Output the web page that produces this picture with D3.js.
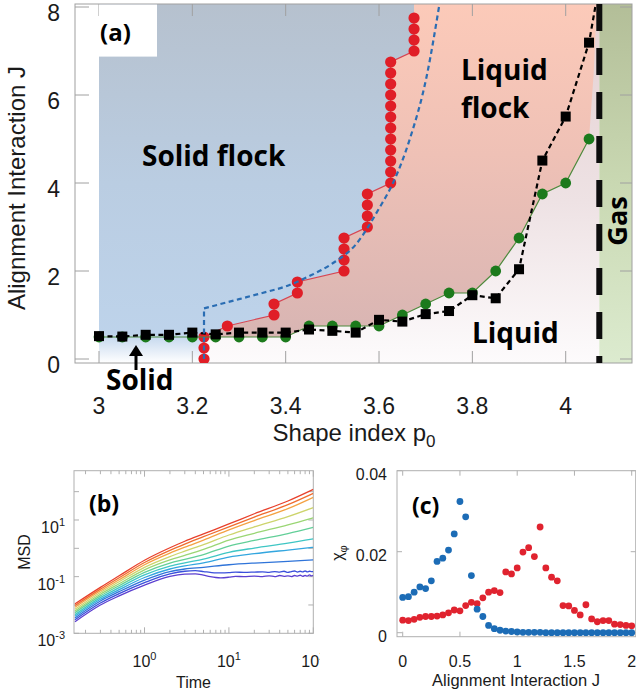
<!DOCTYPE html>
<html><head><meta charset="utf-8">
<script src="https://cdn.jsdelivr.net/npm/d3@7"></script>
<style>
html,body{margin:0;padding:0;background:#fff;}
svg{display:block;}
text{font-family:"Liberation Sans",Arial,sans-serif;fill:#1a1a1a;}
text.bold{font-family:"Open Sans",sans-serif;font-weight:700;fill:#000;}
</style></head><body>
<svg id="fig" width="636" height="696"></svg>
<script>
// ================= Panel (a) data =================
const xTicksA = [3, 3.2, 3.4, 3.6, 3.8, 4];
const yTicksA = [0, 2, 4, 6, 8];
// red: solid-flock boundary (p0, J)
const redP0 = [3.225,3.225,3.225,3.275,3.375,3.375,3.425,3.425,3.525,3.525,3.525,3.525,
  3.575,3.575,3.575,3.575,3.625,3.625,3.625,3.625,3.625,3.625,3.625,3.625,3.625,3.625,3.625,3.625,
  3.675,3.675,3.675,3.675];
const redJ = [0,0.25,0.5,0.75,1.0,1.25,1.5,1.75,2.0,2.25,2.5,2.75,3.0,3.25,3.5,3.75,
  4.0,4.25,4.5,4.75,5.0,5.25,5.5,5.75,6.0,6.25,6.5,6.75,7.0,7.25,7.5,7.75];
// black squares (dashed)
const blackP0 = [3.0,3.05,3.1,3.15,3.2,3.25,3.3,3.35,3.4,3.45,3.5,3.55,3.6,3.65,3.7,3.75,3.8,3.85,3.9,3.95,4.0,4.05];
const blackJ  = [0.52,0.51,0.55,0.55,0.6,0.56,0.6,0.6,0.6,0.67,0.64,0.6,0.89,0.85,1.02,1.09,1.45,1.38,2.04,4.51,5.51,7.19];
const blackTopP0 = [4.07], blackTopJ = [8.4]; // line continues past the frame
// green circles
const greenP0 = [3.0,3.05,3.1,3.15,3.2,3.25,3.3,3.35,3.4,3.45,3.5,3.55,3.6,3.65,3.7,3.75,3.8,3.85,3.9,3.95,4.0,4.05];
const greenJ  = [0.5,0.5,0.5,0.5,0.5,0.5,0.5,0.5,0.5,0.75,0.75,0.75,0.75,1.0,1.25,1.5,1.5,2.0,2.75,3.75,4.0,5.0];
// blue dashed theory curve
const theoryP0 = [3.225,3.225,3.3,3.35,3.4,3.45,3.5,3.55,3.6,3.63,3.666,3.702,3.73];
const theoryJ  = [0,1.15,1.36,1.5,1.65,1.88,2.17,2.6,3.42,4.0,5.0,6.42,8.1];
// gas boundary and upper edge of liquid-flock shading
const gasP0 = 4.072;
const flockEdgeP0 = [4.068, 4.06], flockEdgeJ = [8.4, 6.5];

// ================= Panel (b) data =================
const msdTime = [0.15,0.3,0.5,1,2,3,5,10,20,50,100];
const msdLog10 = [
  [-1.96,-1.38,-0.97,-0.42, 0.02, 0.25, 0.51, 0.86, 1.22, 1.67, 2.08],
  [-2.02,-1.44,-1.04,-0.50,-0.07, 0.15, 0.41, 0.76, 1.10, 1.54, 1.94],
  [-2.08,-1.50,-1.11,-0.58,-0.17, 0.04, 0.29, 0.65, 0.98, 1.40, 1.80],
  [-2.15,-1.56,-1.18,-0.67,-0.29,-0.10, 0.13, 0.47, 0.76, 1.12, 1.44],
  [-2.21,-1.62,-1.25,-0.76,-0.41,-0.25,-0.04, 0.29, 0.53, 0.83, 1.08],
  [-2.27,-1.68,-1.32,-0.85,-0.52,-0.39,-0.22, 0.08, 0.28, 0.52, 0.74],
  [-2.34,-1.74,-1.39,-0.94,-0.63,-0.51,-0.38,-0.14, 0.01, 0.18, 0.33],
  [-2.40,-1.80,-1.46,-1.03,-0.73,-0.62,-0.51,-0.31,-0.19,-0.06, 0.035],
  [-2.46,-1.86,-1.53,-1.12,-0.82,-0.73,-0.67,-0.58,-0.52,-0.46,-0.41]
];
const msdTimeDense = [0.15,0.3,0.5,1,2,3,4,5,6,7,8,10,12,15,20,25,30,35,40,45,50,55,60,65,70,75,80,85,90,95,100];
const msdLog10Dense = [
  [-2.52,-1.93,-1.60,-1.21,-0.90,-0.81,-0.79,-0.82,-0.85,-0.87,-0.87,-0.86,-0.84,-0.85,-0.84,-0.83,-0.85,-0.82,-0.84,-0.81,-0.85,-0.82,-0.80,-0.84,-0.81,-0.83,-0.80,-0.83,-0.81,-0.82,-0.82],
  [-2.59,-2.00,-1.68,-1.30,-0.99,-0.91,-0.90,-0.95,-1.00,-1.03,-1.04,-1.02,-0.99,-1.00,-0.98,-1.00,-0.97,-1.00,-0.96,-0.99,-0.97,-1.00,-0.96,-0.98,-0.95,-0.99,-0.96,-0.98,-0.94,-0.97,-0.95]
];
const msdColors = ['#e8412c','#f06c2e','#f4a244','#cdd46c','#9ad674','#62cf98','#3fc6c4','#33a6df','#2f74d9','#3a4fdb','#5b3fd0'];
const msdXLabels = [1, 10, 100];
const msdYLabels = [1e-3, 1e-1, 1e1];

// ================= Panel (c) data =================
const chiJ = [0,0.05,0.1,0.15,0.2,0.25,0.3,0.35,0.4,0.45,0.5,0.55,0.6,0.65,0.7,0.75,0.8,0.85,0.9,0.95,
  1.0,1.05,1.1,1.15,1.2,1.25,1.3,1.35,1.4,1.45,1.5,1.55,1.6,1.65,1.7,1.75,1.8,1.85,1.9,1.95,2.0];
const chiBlue = [0.0087,0.0089,0.0100,0.0113,0.0109,0.0128,0.0176,0.0184,0.0204,0.0244,0.0324,0.0286,0.0141,0.0058,0.0040,0.0018,0.0010,0.0006,0.0004,0.0003,
  0.0002,0.0001,0.0001,0.0001,0.0001,0,0,0,0,0,0,0,0,0,0,0,0,0,0,0,0];
const chiRed = [0.0031,0.0030,0.0033,0.0038,0.0040,0.0040,0.0041,0.0044,0.0049,0.0056,0.0054,0.0067,0.0075,0.0072,0.0086,0.0100,0.0104,0.0099,0.0150,0.0145,
  0.0160,0.0199,0.0210,0.0188,0.0261,0.0160,0.0137,0.0128,0.0067,0.0066,0.0055,0.0044,0.0069,0.0034,0.0027,0.0030,0.0030,0.0021,0.0020,0.0018,0.0017];
const xTicksC = [0, 0.5, 1, 1.5, 2];
const yTicksC = [0, 0.02, 0.04];

// =====================================================
const svg = d3.select('#fig');
const defs = svg.append('defs');
function vgrad(id, stops, y1, y2){
  const g = defs.append('linearGradient').attr('id', id).attr('gradientUnits','userSpaceOnUse')
    .attr('x1',0).attr('x2',0).attr('y1',y1).attr('y2',y2);
  stops.forEach(([o,c]) => g.append('stop').attr('offset',o).attr('stop-color',c));
}
const sup = (sel, base, exp) => { sel.append('tspan').text(base); sel.append('tspan').attr('dy',-7).attr('font-size',11).text(exp); };

// ---------------- Panel (a) ----------------
const A = {l:75, r:632, t:4, b:363};
const xA = d3.scaleLinear().domain([3,4]).range([99,565.7]);
const yA = d3.scaleLinear().domain([0,8]).range([359,7]);
const jBottom = yA.invert(A.b);
vgrad('gBlue', [[0,'#b6c1ce'],[0.5,'#bacde2'],[1,'#bed4ec']], A.t, A.b);
vgrad('gSolid', [[0,'#c2d6ed'],[1,'#ffffff']], yA(0.55), A.b);
vgrad('gPink', [[0,'#fccab9'],[0.45,'#efc1b6'],[1,'#d8b5b3']], A.t, yA(0.5));
vgrad('gLiquid', [[0,'#e4d0d1'],[0.55,'#eee2e4'],[1,'#fdfbfc']], A.t, A.b);
vgrad('gGas', [[0,'#b3be98'],[0.5,'#c9d8b2'],[1,'#dcebcf']], A.t, A.b);
defs.append('clipPath').attr('id','clipA').append('rect').attr('x',A.l).attr('y',A.t).attr('width',A.r-A.l).attr('height',A.b-A.t);

const gA = svg.append('g');
const bg = gA.append('g').attr('clip-path','url(#clipA)');
const poly = pts => 'M' + pts.map(([p,j]) => xA(p) + ',' + yA(j)).join('L') + 'Z';

bg.append('rect').attr('x', xA(3.225)).attr('y', A.t).attr('width', xA(gasP0)-xA(3.225)).attr('height', A.b-A.t).attr('fill','url(#gLiquid)');
bg.append('rect').attr('x', xA(gasP0)).attr('y', A.t).attr('width', A.r-xA(gasP0)).attr('height', A.b-A.t).attr('fill','url(#gGas)');
const pinkPts = [];
for (let i = 2; i < redP0.length; i++) pinkPts.push([redP0[i], redJ[i]]);
pinkPts.push([redP0[redP0.length-1], 8.4]);
flockEdgeP0.forEach((p,i) => pinkPts.push([p, flockEdgeJ[i]]));
for (let i = greenP0.length-1; i >= 5; i--) pinkPts.push([greenP0[i], greenJ[i]]);
bg.append('path').attr('d', poly(pinkPts)).attr('fill','url(#gPink)');
const bluePts = [[3.0, 8.4],[redP0[redP0.length-1], 8.4]];
for (let i = redP0.length-1; i >= 2; i--) bluePts.push([redP0[i], redJ[i]]);
bluePts.push([3.0, redJ[2]]);
bg.append('path').attr('d', poly(bluePts)).attr('fill','url(#gBlue)');
bg.append('path').attr('d', poly([[3.0,0.55],[3.225,0.55],[3.225,jBottom],[3.0,jBottom]])).attr('fill','url(#gSolid)');

const axisCol = '#a0a0a0';
gA.append('rect').attr('x',A.l).attr('y',A.t).attr('width',A.r-A.l).attr('height',A.b-A.t).attr('fill','none').attr('stroke',axisCol);
xTicksA.forEach(v => {
  gA.append('line').attr('x1',xA(v)).attr('x2',xA(v)).attr('y1',A.b).attr('y2',A.b-12).attr('stroke',axisCol);
  gA.append('line').attr('x1',xA(v)).attr('x2',xA(v)).attr('y1',A.t).attr('y2',A.t+12).attr('stroke',axisCol);
  gA.append('text').attr('x',xA(v)).attr('y',414).attr('text-anchor','middle').attr('font-size',23).text(v);
});
yTicksA.forEach(v => {
  gA.append('line').attr('x1',A.l).attr('x2',A.l+14).attr('y1',yA(v)).attr('y2',yA(v)).attr('stroke',axisCol);
  gA.append('line').attr('x1',A.r).attr('x2',A.r-12).attr('y1',yA(v)).attr('y2',yA(v)).attr('stroke',axisCol);
  gA.append('text').attr('x',60).attr('y',yA(v)+14).attr('text-anchor','end').attr('font-size',23).text(v);
});
const xt = gA.append('text').attr('x',354).attr('y',441).attr('text-anchor','middle').attr('font-size',24);
xt.append('tspan').text('Shape index p');
xt.append('tspan').attr('dy',6).attr('font-size',17).text('0');
gA.append('text').attr('transform','translate(25,188) rotate(-90)').attr('text-anchor','middle').attr('font-size',24).text('Alignment Interaction J');

const dl = gA.append('g').attr('clip-path','url(#clipA)');
const lineA = d3.line().x(d => xA(d[0])).y(d => yA(d[1]));
const redPts = redP0.map((p,i) => [p, redJ[i]]);
dl.append('path').attr('d', lineA(redPts)).attr('fill','none').attr('stroke','#d64552').attr('stroke-width',1.2);
dl.selectAll('.rd').data(redPts).join('circle').attr('cx',d=>xA(d[0])).attr('cy',d=>yA(d[1])).attr('r',5.6).attr('fill','#e01e27');
const greenPts = greenP0.map((p,i) => [p, greenJ[i]]);
dl.append('path').attr('d', lineA(greenPts)).attr('fill','none').attr('stroke','#4d8a3c').attr('stroke-width',1.2);
dl.selectAll('.gd').data(greenPts).join('circle').attr('cx',d=>xA(d[0])).attr('cy',d=>yA(d[1])).attr('r',5.4).attr('fill','#1c7a1c');
const blackPts = blackP0.map((p,i) => [p, blackJ[i]]);
dl.append('path').attr('d', lineA(blackPts.concat(blackTopP0.map((p,i)=>[p, blackTopJ[i]]))))
  .attr('fill','none').attr('stroke','#000').attr('stroke-width',2.2).attr('stroke-dasharray','5,3.5');
dl.selectAll('.bk').data(blackPts).join('rect').attr('x',d=>xA(d[0])-5).attr('y',d=>yA(d[1])-5).attr('width',10).attr('height',10).attr('fill','#000');
const theoryPts = theoryP0.map((p,i) => [p, theoryJ[i]]);
dl.append('path').attr('d', lineA(theoryPts.slice(0,2))).attr('fill','none').attr('stroke','#2a6db3').attr('stroke-width',2.2).attr('stroke-dasharray','5,3.5');
dl.append('path').attr('d', d3.line().x(d => xA(d[0])).y(d => yA(d[1])).curve(d3.curveMonotoneX)(theoryPts.slice(1)))
  .attr('fill','none').attr('stroke','#2a6db3').attr('stroke-width',2.2).attr('stroke-dasharray','5,3.5');
dl.append('line').attr('x1',xA(gasP0)).attr('x2',xA(gasP0)).attr('y1',A.t).attr('y2',A.b)
  .attr('stroke','#0d0d0d').attr('stroke-width',6).attr('stroke-dasharray','27,17');

gA.append('rect').attr('x',xA(3.0)).attr('y',A.t+0.6).attr('width',58).attr('height',52).attr('fill','#fff');
gA.append('text').attr('class','bold').attr('x',100).attr('y',41).attr('font-size',24).text('(a)');
gA.append('text').attr('class','bold').attr('x',142).attr('y',166).attr('font-size',28).text('Solid flock');
gA.append('text').attr('class','bold').attr('x',461).attr('y',80).attr('font-size',28).text('Liquid');
gA.append('text').attr('class','bold').attr('x',461).attr('y',118).attr('font-size',28).text('flock');
gA.append('text').attr('class','bold').attr('x',472).attr('y',343).attr('font-size',28).text('Liquid');
gA.append('text').attr('class','bold').attr('x',106).attr('y',390).attr('font-size',28).text('Solid');
gA.append('text').attr('class','bold').attr('transform','translate(627,221) rotate(-90)').attr('text-anchor','middle').attr('font-size',27).text('Gas');
gA.append('line').attr('x1',136).attr('x2',136).attr('y1',370).attr('y2',354).attr('stroke','#000').attr('stroke-width',3);
gA.append('path').attr('d','M129,356 L136,345 L143,356 Z').attr('fill','#000');

// ---------------- Panel (b) ----------------
const B = {l:74, r:313.3, t:470.7, b:633.3};
const xB = d3.scaleLog().domain([0.146, 100]).range([B.l, B.r]);
const yB = d3.scaleLog().domain([1e-3, 550]).range([B.b, B.t]);
defs.append('clipPath').attr('id','clipB').append('rect').attr('x',B.l).attr('y',B.t).attr('width',B.r-B.l).attr('height',B.b-B.t);
const gB = svg.append('g');
const tickCol = '#b0b0b0';
gB.append('rect').attr('x',B.l).attr('y',B.t).attr('width',B.r-B.l).attr('height',B.b-B.t).attr('fill','none').attr('stroke',tickCol);
[0.2,0.3,0.4,0.5,0.6,0.7,0.8,0.9,1,2,3,4,5,6,7,8,9,10,20,30,40,50,60,70,80,90,100].forEach(v => {
  const major = [1,10,100].includes(v); const L = major ? 6 : 3.5;
  gB.append('line').attr('x1',xB(v)).attr('x2',xB(v)).attr('y1',B.b).attr('y2',B.b-L).attr('stroke',tickCol);
  gB.append('line').attr('x1',xB(v)).attr('x2',xB(v)).attr('y1',B.t).attr('y2',B.t+L).attr('stroke',tickCol);
});
[1e-3,1e-2,1e-1,1,10,100].forEach(v => {
  gB.append('line').attr('x1',B.l).attr('x2',B.l+5).attr('y1',yB(v)).attr('y2',yB(v)).attr('stroke',tickCol);
  gB.append('line').attr('x1',B.r).attr('x2',B.r-5).attr('y1',yB(v)).attr('y2',yB(v)).attr('stroke',tickCol);
});
msdXLabels.forEach(v => {
  const t = gB.append('text').attr('x',xB(v)).attr('y',667).attr('text-anchor','middle').attr('font-size',16);
  sup(t, '10', Math.round(Math.log10(v)));
});
msdYLabels.forEach(v => {
  const t = gB.append('text').attr('x',65).attr('y',yB(v)+13).attr('text-anchor','end').attr('font-size',16);
  sup(t, '10', Math.round(Math.log10(v)));
});
gB.append('text').attr('x',193.5).attr('y',688).attr('text-anchor','middle').attr('font-size',16).text('Time');
gB.append('text').attr('transform','translate(30,552) rotate(-90)').attr('text-anchor','middle').attr('font-size',16).text('MSD');
const lineB = d3.line().x(d => xB(d[0])).y(d => yB(Math.pow(10, d[1]))).curve(d3.curveMonotoneX);
const gBl = gB.append('g').attr('clip-path','url(#clipB)');
msdLog10Dense.forEach((vals, k) => {
  gBl.append('path').attr('d', lineB(msdTimeDense.map((t,i)=>[t, vals[i]]))).attr('fill','none')
    .attr('stroke', msdColors[msdLog10.length + k]).attr('stroke-width',1.3);
});
msdLog10.slice().reverse().forEach((vals, kr) => {
  const k = msdLog10.length - 1 - kr;
  gBl.append('path').attr('d', lineB(msdTime.map((t,i)=>[t, vals[i]]))).attr('fill','none')
    .attr('stroke', msdColors[k]).attr('stroke-width',1.3);
});
gB.append('text').attr('class','bold').attr('x',89).attr('y',512).attr('font-size',23).text('(b)');

// ---------------- Panel (c) ----------------
svg.append('rect').attr('x',320).attr('y',640).attr('width',40).attr('height',40).attr('fill','#fff');
const C = {l:397, r:635.7, t:470.7, b:636.7};
const xC = d3.scaleLinear().domain([0,2]).range([402.7,631.7]);
const yC = d3.scaleLinear().domain([0,0.04]).range([632.7,470.7]);
const gC = svg.append('g');
gC.append('rect').attr('x',C.l).attr('y',C.t).attr('width',C.r-C.l).attr('height',C.b-C.t).attr('fill','none').attr('stroke',tickCol);
xTicksC.forEach(v => {
  gC.append('line').attr('x1',xC(v)).attr('x2',xC(v)).attr('y1',C.b).attr('y2',C.b-5).attr('stroke',tickCol);
  gC.append('line').attr('x1',xC(v)).attr('x2',xC(v)).attr('y1',C.t).attr('y2',C.t+5).attr('stroke',tickCol);
  gC.append('text').attr('x',xC(v)).attr('y',667).attr('text-anchor','middle').attr('font-size',16).text(v);
});
yTicksC.forEach(v => {
  gC.append('line').attr('x1',C.l).attr('x2',C.l+5).attr('y1',yC(v)).attr('y2',yC(v)).attr('stroke',tickCol);
  gC.append('line').attr('x1',C.r).attr('x2',C.r-5).attr('y1',yC(v)).attr('y2',yC(v)).attr('stroke',tickCol);
  gC.append('text').attr('x',387).attr('y',yC(v)+9).attr('text-anchor','end').attr('font-size',16).text(v);
});
gC.append('text').attr('x',516).attr('y',686).attr('text-anchor','middle').attr('font-size',16.5).text('Alignment Interaction J');
const yl = gC.append('text').attr('transform','translate(343,553) rotate(-90)').attr('text-anchor','middle').attr('font-size',16);
yl.append('tspan').text('χ');
yl.append('tspan').attr('dy',4).attr('font-size',11).text('φ');
gC.selectAll('.cr').data(chiJ).join('circle').attr('cx',(d)=>xC(d)).attr('cy',(d,i)=>yC(chiRed[i])).attr('r',3.4).attr('fill','#e0232f');
gC.selectAll('.cb').data(chiJ).join('circle').attr('cx',(d)=>xC(d)).attr('cy',(d,i)=>yC(chiBlue[i])).attr('r',3.4).attr('fill','#1c6cb6');
gC.append('text').attr('class','bold').attr('x',412).attr('y',514).attr('font-size',23).text('(c)');
</script>
</body></html>
